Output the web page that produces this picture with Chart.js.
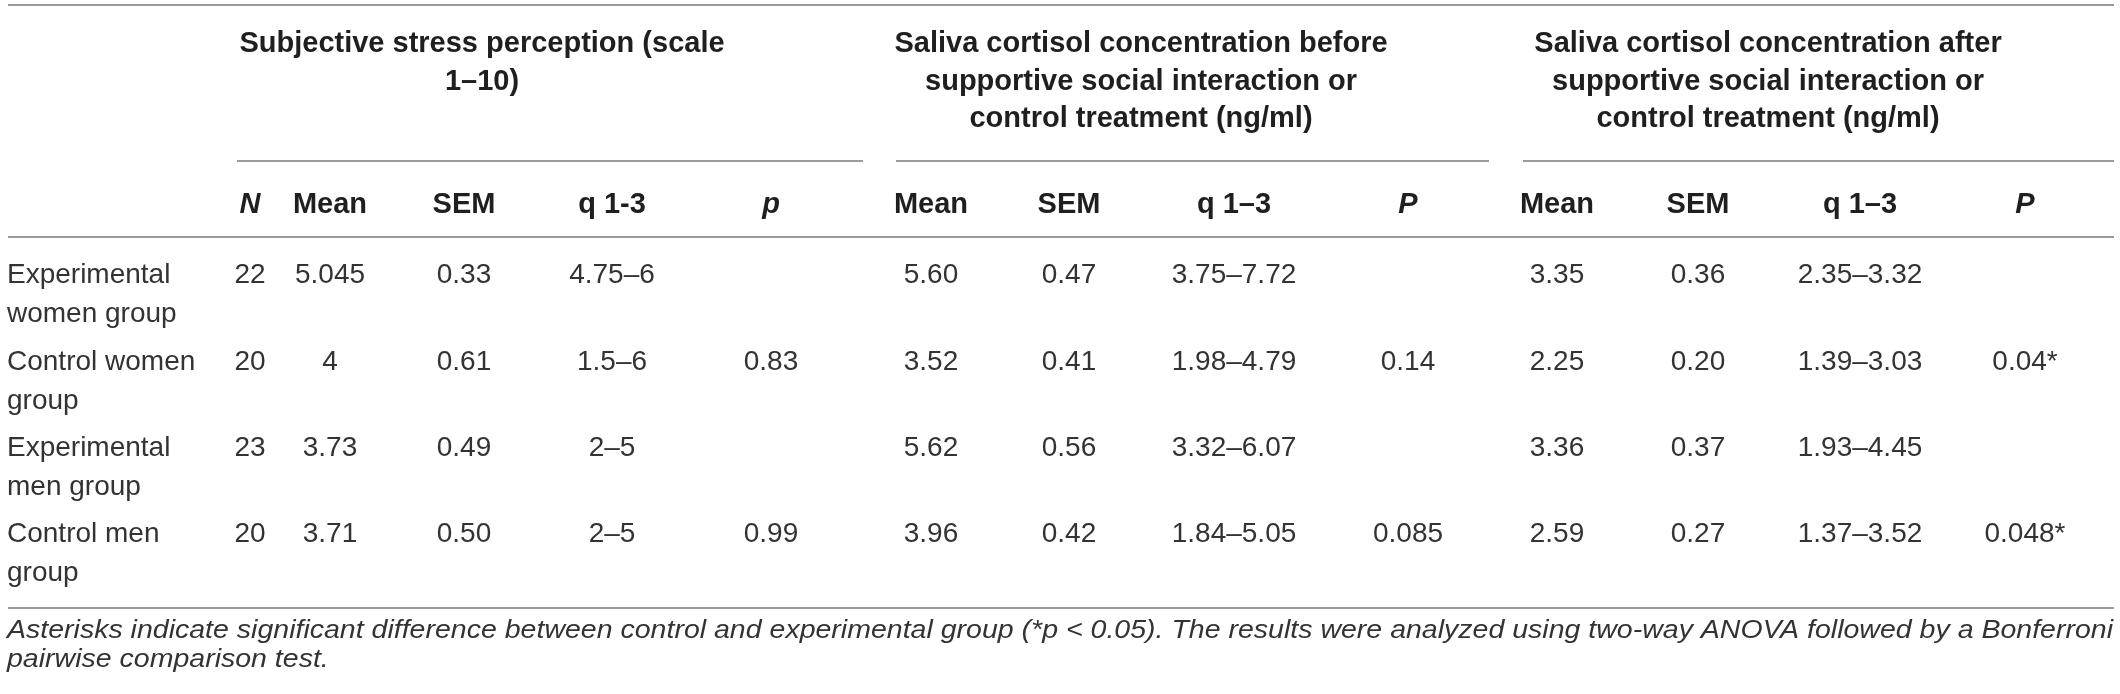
<!DOCTYPE html>
<html>
<head>
<meta charset="utf-8">
<script src="https://cdn.jsdelivr.net/npm/chart.js@4.4.1/dist/chart.umd.min.js"></script>
<style>
  html, body { margin: 0; padding: 0; background: #fff; }
  canvas { display: block; }
</style>
</head>
<body>
<canvas id="statsTable" width="2120" height="694"></canvas>
<script>
// Table data
const rowLabels = [
    ['Experimental', 'women group'],
    ['Control women', 'group'],
    ['Experimental', 'men group'],
    ['Control men', 'group']
];
const groupTitles = [
    ['Subjective stress perception (scale', '1\u201310)'],
    ['Saliva cortisol concentration before', 'supportive social interaction or', 'control treatment (ng/ml)'],
    ['Saliva cortisol concentration after', 'supportive social interaction or', 'control treatment (ng/ml)']
];
const columnTitles = ['N', 'Mean', 'SEM', 'q 1-3', 'p', 'Mean', 'SEM', 'q 1\u20133', 'P', 'Mean', 'SEM', 'q 1\u20133', 'P'];
const italicTitles = ['N', 'p', 'P'];

const nValues = ['22', '20', '23', '20'];
const stressMean = ['5.045', '4', '3.73', '3.71'];
const stressSem = ['0.33', '0.61', '0.49', '0.50'];
const stressQ = ['4.75\u20136', '1.5\u20136', '2\u20135', '2\u20135'];
const stressP = ['', '0.83', '', '0.99'];
const beforeMean = ['5.60', '3.52', '5.62', '3.96'];
const beforeSem = ['0.47', '0.41', '0.56', '0.42'];
const beforeQ = ['3.75\u20137.72', '1.98\u20134.79', '3.32\u20136.07', '1.84\u20135.05'];
const beforeP = ['', '0.14', '', '0.085'];
const afterMean = ['3.35', '2.25', '3.36', '2.59'];
const afterSem = ['0.36', '0.20', '0.37', '0.27'];
const afterQ = ['2.35\u20133.32', '1.39\u20133.03', '1.93\u20134.45', '1.37\u20133.52'];
const afterP = ['', '0.04*', '', '0.048*'];

const footnote = [
    'Asterisks indicate significant difference between control and experimental group (*p < 0.05). The results were analyzed using two-way ANOVA followed by a Bonferroni',
    'pairwise comparison test.'
];

const columns = [nValues, stressMean, stressSem, stressQ, stressP,
    beforeMean, beforeSem, beforeQ, beforeP,
    afterMean, afterSem, afterQ, afterP];

// Layout, in sheet units (same as pixels of the 2120x694 page)
const colX = [250, 330, 464, 612, 771, 931, 1069, 1234, 1408, 1557, 1698, 1860, 2025];
const labelX = 7;
const rowY = [283, 370, 456, 542];
const rowLineGap = 39;
const groupSpans = [[237, 863], [896, 1489], [1523, 2114]];
const groupCenters = [482, 1141, 1768];
const groupLineY = [52, 90, 127];
const groupRuleY = 161;
const headY = 213;
const ruleY = [5, 237, 608];
const ruleSpan = [8, 2114];
const noteY = [638, 667];
const noteSpan = [7, 2113];

const bodyFont = '28px "Liberation Sans", Arial, sans-serif';
const headFont = 'bold 29px "Liberation Sans", Arial, sans-serif';
const noteFont = 'italic 25px "Liberation Sans", Arial, sans-serif';
const bodyColor = '#333333';
const headColor = '#1f1f1f';
const ruleColor = '#9a9a9a';

function buildDatasets() {
    const sets = [{
        label: 'Group',
        data: rowY.map(y => ({ x: labelX, y: y })),
        cellText: rowLabels,
        align: 'left'
    }];
    columns.forEach((values, c) => {
        sets.push({
            label: columnTitles[c],
            data: rowY.map(y => ({ x: colX[c], y: y })),
            cellText: values.map(v => [v]),
            align: 'center'
        });
    });
    sets.forEach(s => {
        s.pointRadius = 0;
        s.pointHoverRadius = 0;
        s.showLine = false;
    });
    return sets;
}

// Draws the cell texts, headers and rules through the chart scales
const tablePlugin = {
    id: 'tablePlugin',
    beforeDraw(chart) {
        const ctx = chart.ctx;
        ctx.save();
        ctx.fillStyle = '#ffffff';
        ctx.fillRect(0, 0, chart.width, chart.height);
        ctx.restore();
    },
    afterDatasetsDraw(chart) {
        const ctx = chart.ctx;
        const xs = chart.scales.x;
        const ys = chart.scales.y;
        ctx.save();
        ctx.textBaseline = 'alphabetic';

        // horizontal rules
        ctx.strokeStyle = ruleColor;
        ctx.lineWidth = 2;
        ruleY.forEach(y => {
            const py = Math.round(ys.getPixelForValue(y));
            ctx.beginPath();
            ctx.moveTo(xs.getPixelForValue(ruleSpan[0]), py);
            ctx.lineTo(xs.getPixelForValue(ruleSpan[1]), py);
            ctx.stroke();
        });
        groupSpans.forEach(span => {
            const py = Math.round(ys.getPixelForValue(groupRuleY));
            ctx.beginPath();
            ctx.moveTo(xs.getPixelForValue(span[0]), py);
            ctx.lineTo(xs.getPixelForValue(span[1]), py);
            ctx.stroke();
        });

        // group titles
        ctx.fillStyle = headColor;
        ctx.font = headFont;
        ctx.textAlign = 'center';
        groupTitles.forEach((lines, g) => {
            lines.forEach((line, k) => {
                ctx.fillText(line, xs.getPixelForValue(groupCenters[g]), ys.getPixelForValue(groupLineY[k]));
            });
        });

        // column titles
        columnTitles.forEach((t, c) => {
            ctx.font = italicTitles.includes(t) ? 'italic ' + headFont : headFont;
            ctx.fillText(t, xs.getPixelForValue(colX[c]), ys.getPixelForValue(headY));
        });

        // cells, one dataset per column
        ctx.fillStyle = bodyColor;
        ctx.font = bodyFont;
        chart.data.datasets.forEach((ds, i) => {
            const meta = chart.getDatasetMeta(i);
            ctx.textAlign = ds.align;
            meta.data.forEach((pt, j) => {
                ds.cellText[j].forEach((line, k) => {
                    ctx.fillText(line, pt.x, pt.y + k * rowLineGap);
                });
            });
        });

        // footnote, justified to the table width
        ctx.font = noteFont;
        ctx.textAlign = 'left';
        const left = xs.getPixelForValue(noteSpan[0]);
        const width = xs.getPixelForValue(noteSpan[1]) - left;
        const scale = width / ctx.measureText(footnote[0]).width;
        footnote.forEach((line, k) => {
            ctx.save();
            ctx.translate(left, ys.getPixelForValue(noteY[k]));
            ctx.scale(scale, 1);
            ctx.fillText(line, 0, 0);
            ctx.restore();
        });

        ctx.restore();
    }
};

const tableChart = new Chart(document.getElementById('statsTable'), {
    type: 'scatter',
    data: { datasets: buildDatasets() },
    options: {
        responsive: false,
        animation: false,
        devicePixelRatio: 1,
        events: [],
        layout: { padding: 0 },
        plugins: {
            legend: { display: false },
            tooltip: { enabled: false }
        },
        scales: {
            x: { type: 'linear', min: 0, max: 2120, display: false },
            y: { type: 'linear', min: 0, max: 694, reverse: true, display: false }
        }
    },
    plugins: [tablePlugin]
});
</script>
</body>
</html>
